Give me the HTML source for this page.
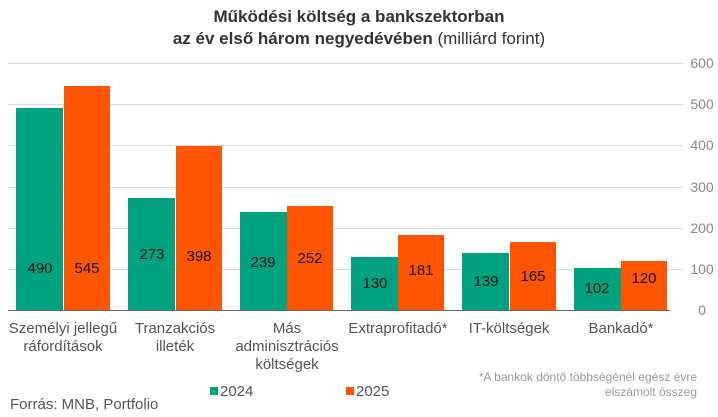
<!DOCTYPE html>
<html><head><meta charset="utf-8"><style>
body{margin:0;background:#fff}
svg{display:block;font-family:"Liberation Sans Narrow","Liberation Sans",sans-serif}
</style></head><body>
<svg width="718" height="417" viewBox="0 0 718 417">
<text x="359" y="22" text-anchor="middle" font-size="17" font-weight="bold" fill="#333">Működési költség a bankszektorban</text>
<text x="359" y="44" text-anchor="middle" font-size="17" fill="#333"><tspan font-weight="bold">az év első három negyedévében</tspan> (milliárd forint)</text>
<g stroke="#d9d9d9" stroke-width="1">
<line x1="8" x2="683" y1="63.5" y2="63.5"/><line x1="8" x2="683" y1="104.5" y2="104.5"/>
<line x1="8" x2="683" y1="145.5" y2="145.5"/><line x1="8" x2="683" y1="187.5" y2="187.5"/>
<line x1="8" x2="683" y1="228.5" y2="228.5"/><line x1="8" x2="683" y1="269.5" y2="269.5"/>
</g>
<g font-size="14" fill="#888" text-anchor="middle">
<text x="702" y="68">600</text><text x="702" y="109">500</text><text x="702" y="150">400</text>
<text x="702" y="192">300</text><text x="702" y="233">200</text><text x="702" y="274">100</text><text x="702" y="315">0</text>
</g>
<g fill="#00A27F">
<rect x="16" y="108" width="47" height="202"/><rect x="128" y="198" width="47" height="112"/>
<rect x="240" y="212" width="47" height="98"/><rect x="351" y="257" width="47" height="53"/>
<rect x="462" y="253" width="47" height="57"/><rect x="574" y="268" width="47" height="42"/>
</g>
<g fill="#FF5500">
<rect x="64" y="86" width="46" height="224"/><rect x="176" y="146" width="46" height="164"/>
<rect x="287" y="206" width="46" height="104"/><rect x="398" y="235" width="46" height="75"/>
<rect x="510" y="242" width="46" height="68"/><rect x="621" y="261" width="46" height="49"/>
</g>
<line x1="8" x2="670" y1="310.5" y2="310.5" stroke="#666" stroke-width="1"/>
<g font-size="15" fill="#111" text-anchor="middle">
<text x="40" y="273">490</text><text x="87" y="273">545</text>
<text x="152" y="259">273</text><text x="199" y="261">398</text>
<text x="263" y="267">239</text><text x="310" y="263">252</text>
<text x="375" y="288">130</text><text x="421" y="275">181</text>
<text x="486" y="286">139</text><text x="533" y="281">165</text>
<text x="597" y="293">102</text><text x="644" y="283">120</text>
</g>
<g font-size="15" fill="#555" text-anchor="middle">
<text x="63" y="333">Személyi jellegű</text><text x="63" y="351">ráfordítások</text>
<text x="175" y="333">Tranzakciós</text><text x="175" y="351">illeték</text>
<text x="287" y="333">Más</text><text x="287" y="351">adminisztrációs</text><text x="287" y="369">költségek</text>
<text x="398" y="333">Extraprofitadó*</text>
<text x="509" y="333">IT-költségek</text>
<text x="621" y="333">Bankadó*</text>
</g>
<rect x="210" y="387" width="8" height="8" fill="#00A27F"/>
<text x="220" y="396" font-size="15" fill="#555">2024</text>
<rect x="346" y="387" width="8" height="8" fill="#FF5500"/>
<text x="356" y="396" font-size="15" fill="#555">2025</text>
<text x="10" y="409" font-size="15" fill="#555">Forrás: MNB, Portfolio</text>
<g font-size="12" fill="#999" text-anchor="end">
<text x="697" y="381">*A bankok döntő többségénél egész évre</text>
<text x="697" y="396">elszámolt összeg</text>
</g>
</svg>
</body></html>
